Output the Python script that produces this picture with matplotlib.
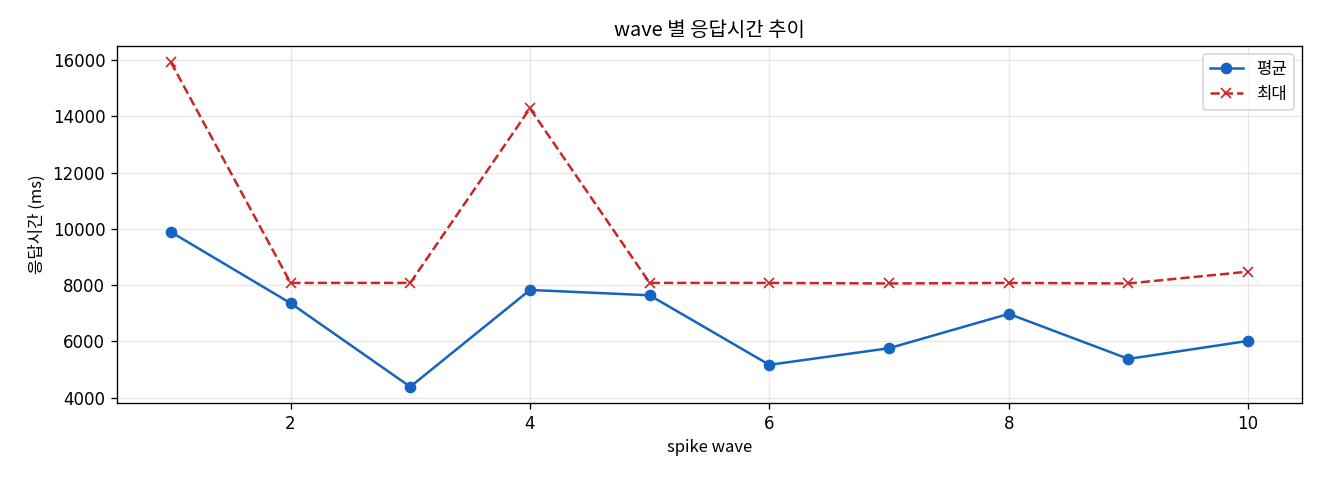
import matplotlib
matplotlib.use("Agg")
import matplotlib.pyplot as plt

plt.rcParams['font.family'] = ['Noto Sans CJK KR', 'DejaVu Sans']
plt.rcParams['axes.unicode_minus'] = False

waves = [1, 2, 3, 4, 5, 6, 7, 8, 9, 10]
avg_ms = [9890, 7360, 4390, 7830, 7640, 5170, 5760, 6980, 5380, 6020]
max_ms = [15920, 8080, 8080, 14280, 8080, 8080, 8060, 8080, 8060, 8480]

fig = plt.figure(figsize=(11, 4), dpi=120)
ax = fig.add_axes([117/1320, 1-403/480, (1302-117)/1320, (403-46)/480])
ax.plot(waves, avg_ms, marker='o', color='#1565C0', label='평균', linewidth=1.5, markersize=6)
ax.plot(waves, max_ms, marker='x', linestyle='--', color='#C62828', label='최대', linewidth=1.5, markersize=6)
ax.set_title('wave 별 응답시간 추이', fontsize=12)
ax.set_xlabel('spike wave', fontsize=10)
ax.set_ylabel('응답시간 (ms)', fontsize=10)
ax.tick_params(labelsize=10)
for lbl in ax.get_xticklabels() + ax.get_yticklabels():
    lbl.set_family(['DejaVu Sans'])
ax.grid(True, alpha=0.3)
ax.legend(loc='upper right', fontsize=10)
fig.savefig('out.png', dpi=120)
